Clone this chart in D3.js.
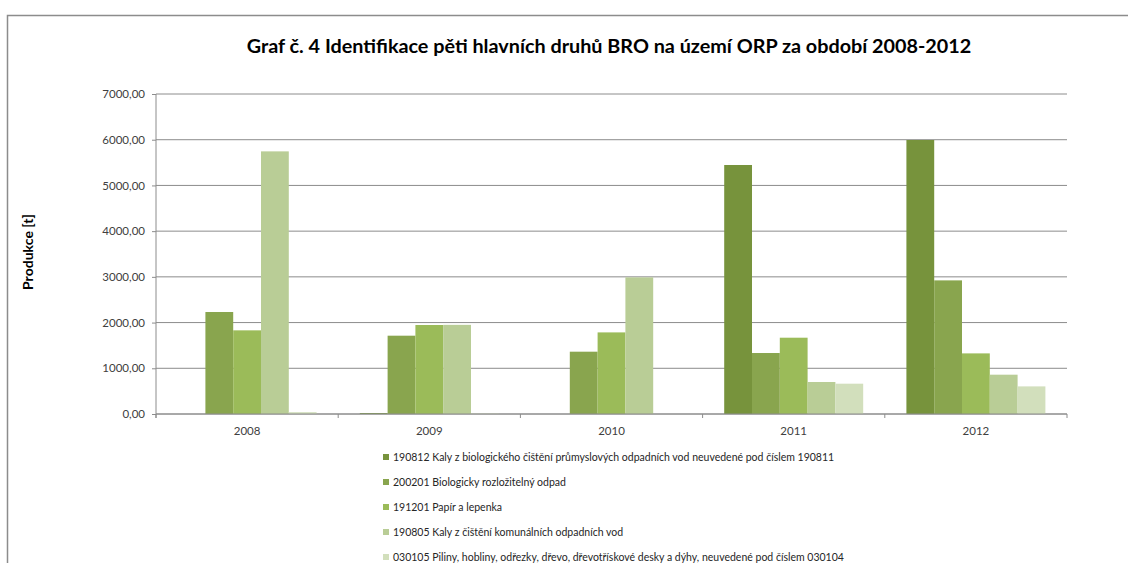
<!DOCTYPE html>
<html>
<head>
<meta charset="utf-8">
<script src="https://cdn.jsdelivr.net/npm/d3@7"></script>
<style>
  body { margin: 0; background: #fff; }
  svg { display: block; font-family: Lato, "Open Sans", sans-serif; }
</style>
</head>
<body>
<script>
var years = ["2008", "2009", "2010", "2011", "2012"];

var seriesNames = [
    "190812 Kaly z biologického čištění průmyslových odpadních vod neuvedené pod číslem 190811",
    "200201 Biologicky rozložitelný odpad",
    "191201 Papír a lepenka",
    "190805 Kaly z čištění komunálních odpadních vod",
    "030105 Piliny, hobliny, odřezky, dřevo, dřevotřískové desky a dýhy, neuvedené pod číslem 030104"
];

// values per series, one per year
var kaly190812 = [0, 20, 0, 5447, 5994];
var bioOdpad = [2231, 1713, 1363, 1334, 2923];
var papir = [1830, 1947, 1785, 1669, 1326];
var kaly190805 = [5745, 1950, 2989, 700, 860];
var piliny = [40, 10, 0, 663, 604];

var yTicks = [0, 1000, 2000, 3000, 4000, 5000, 6000, 7000];

var colors = ["#77933c", "#89a54e", "#9bbb59", "#b9cd96", "#d2dfbc"];

function fitText(sel, size, target) {
    sel.attr("font-size", size);
    var tw = sel.node().getComputedTextLength();
    sel.attr("font-size", size * target / tw);
}

function init() {
    var w = 1128, h = 563;
    var allSeries = [kaly190812, bioOdpad, papir, kaly190805, piliny];

    var svg = d3.select("body").append("svg")
        .attr("width", w)
        .attr("height", h);

    // chart frame
    svg.append("rect")
        .attr("x", 7.5).attr("y", 15.5)
        .attr("width", 1140).attr("height", 600)
        .attr("fill", "none")
        .attr("stroke", "#8c8c8c")
        .attr("stroke-width", 1.5);

    var left = 156, right = 1067, top = 94, bottom = 414;

    var x0 = d3.scaleBand()
        .domain(years)
        .range([left, right])
        .padding(0);

    var gap = x0.bandwidth() * 0.1186;
    var x1 = d3.scaleBand()
        .domain(d3.range(allSeries.length))
        .range([gap, x0.bandwidth() - gap])
        .padding(0);

    var y = d3.scaleLinear()
        .domain([0, 7000])
        .range([bottom, top]);

    // gridlines
    svg.append("g")
        .selectAll("line")
        .data(yTicks)
        .enter()
        .append("line")
        .attr("x1", left).attr("x2", right)
        .attr("y1", function(d) { return y(d); })
        .attr("y2", function(d) { return y(d); })
        .attr("stroke", "#8c8c8c")
        .attr("stroke-width", 1);

    // y axis
    var yAxis = d3.axisLeft(y)
        .tickValues(yTicks)
        .tickSize(4)
        .tickPadding(7)
        .tickFormat(function(d) { return d3.format(".2f")(d).replace(".", ","); });

    var gy = svg.append("g")
        .attr("transform", "translate(" + left + ",0)")
        .call(yAxis);
    gy.select(".domain").attr("stroke", "#8c8c8c").attr("d", "M0," + top + "V" + (bottom + 4));
    gy.selectAll(".tick line").attr("stroke", "#8c8c8c");
    gy.selectAll("text")
        .attr("font-family", "Lato, sans-serif")
        .attr("font-size", 11.5)
        .attr("fill", "#404040");

    // bars
    var groups = svg.append("g")
        .selectAll("g")
        .data(years)
        .enter()
        .append("g")
        .attr("transform", function(d) { return "translate(" + x0(d) + ",0)"; });

    groups.selectAll("rect")
        .data(function(d, i) {
            return allSeries.map(function(s, k) { return { k: k, v: s[i] }; });
        })
        .enter()
        .append("rect")
        .attr("x", function(d) { return x1(d.k); })
        .attr("width", x1.bandwidth())
        .attr("y", function(d) { return y(d.v); })
        .attr("height", function(d) { return y(0) - y(d.v); })
        .attr("fill", function(d) { return colors[d.k]; });

    // x axis
    var xAxisG = svg.append("g");
    xAxisG.append("line")
        .attr("x1", left).attr("x2", right)
        .attr("y1", bottom).attr("y2", bottom)
        .attr("stroke", "#8c8c8c");
    xAxisG.selectAll("line.tk")
        .data(years.concat(["end"]))
        .enter()
        .append("line")
        .attr("class", "tk")
        .attr("x1", function(d) { return d === "end" ? right : x0(d); })
        .attr("x2", function(d) { return d === "end" ? right : x0(d); })
        .attr("y1", bottom).attr("y2", bottom + 4)
        .attr("stroke", "#8c8c8c");
    xAxisG.selectAll("text")
        .data(years)
        .enter()
        .append("text")
        .attr("x", function(d) { return x0(d) + x0.bandwidth() / 2; })
        .attr("y", bottom + 21)
        .attr("text-anchor", "middle")
        .attr("font-size", 11.5)
        .attr("fill", "#404040")
        .text(function(d) { return d; });

    // title
    var title = svg.append("text")
        .attr("x", 609)
        .attr("y", 53)
        .attr("text-anchor", "middle")
        .attr("font-weight", "bold")
        .attr("fill", "#000")
        .text("Graf č. 4 Identifikace pěti hlavních druhů BRO na území ORP za období 2008-2012");
    fitText(title, 18, 725);

    // y axis title
    var yTitle = svg.append("text")
        .attr("transform", "translate(33,252) rotate(-90)")
        .attr("text-anchor", "middle")
        .attr("font-weight", "bold")
        .attr("fill", "#000")
        .text("Produkce [t]");
    fitText(yTitle, 12, 76);

    // legend
    var legend = svg.append("g")
        .selectAll("g")
        .data(seriesNames)
        .enter()
        .append("g")
        .attr("transform", function(d, i) { return "translate(383," + (454 + i * 25) + ")"; });

    legend.append("rect")
        .attr("width", 6).attr("height", 6)
        .attr("fill", function(d, i) { return colors[i]; });

    legend.append("text")
        .attr("x", 10)
        .attr("y", 6.5)
        .attr("font-size", 10.5)
        .attr("fill", "#262626")
        .text(function(d) { return d; });
}

window.onload = init;
</script>
</body>
</html>
